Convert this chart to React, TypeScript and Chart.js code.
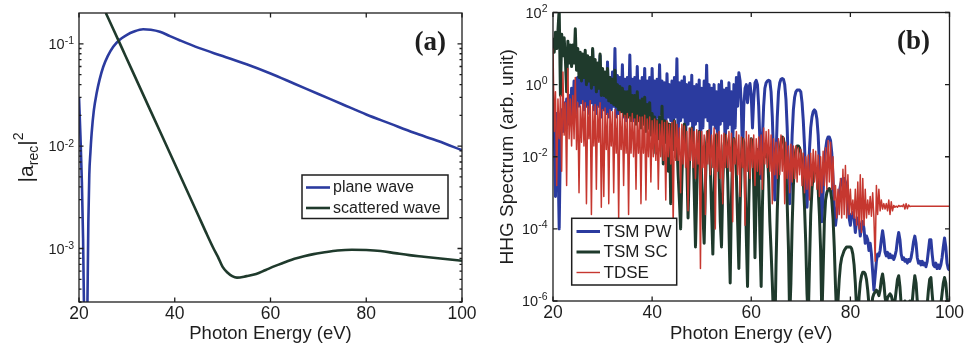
import React, { useEffect, useRef } from 'react';
import { Chart, registerables } from 'chart.js';

Chart.register(...registerables);

const SANS = '"Liberation Sans", Arial, Helvetica, sans-serif';
const SERIF = '"Liberation Serif", "Times New Roman", Times, serif';
const INK = '#1e1e1e';
const BLUE = '#2b3b9f';
const GREEN = '#1f3a2c';
const RED = '#c6372f';

// ---------------- Panel (a): recombination amplitude ----------------
const planeWaveEnergy = [20, 20.3, 20.6, 20.85, 21.05, 21.4, 21.75, 21.95, 22.15, 22.4, 22.64, 23.1, 23.68, 24.3, 25.07, 26.0, 27.15, 28.5, 29.93, 31.5, 33.4, 35.0, 36.9, 39.0, 41.0, 45.0, 50.0, 55.0, 60.0, 65.0, 70.0, 75.0, 80.0, 85.0, 90.0, 95.0, 100.0];
const planeWaveLog10 = [-1.52, -1.9, -2.35, -2.9, -3.6, -5.0, -3.6, -2.75, -2.28, -2.05, -1.875, -1.65, -1.484, -1.35, -1.224, -1.12, -1.028, -0.96, -0.914, -0.88, -0.858, -0.862, -0.882, -0.925, -0.965, -1.04, -1.12, -1.2, -1.29, -1.39, -1.49, -1.59, -1.69, -1.78, -1.87, -1.95, -2.04];
const scatteredWaveEnergy = [25.6, 27, 29, 31, 33, 35, 37, 39, 41, 43, 45, 46.5, 48, 49, 50, 51, 52, 53, 55, 57, 59, 61, 63, 65, 67, 69, 71, 74, 77, 80, 83, 86, 89, 92, 95, 98, 100];
const scatteredWaveLog10 = [-0.699, -0.84, -1.045, -1.25, -1.455, -1.66, -1.865, -2.07, -2.275, -2.48, -2.685, -2.84, -2.99, -3.08, -3.18, -3.235, -3.27, -3.285, -3.27, -3.25, -3.21, -3.17, -3.135, -3.1, -3.075, -3.055, -3.04, -3.02, -3.012, -3.015, -3.025, -3.045, -3.065, -3.08, -3.095, -3.11, -3.12];
const panelAXTicks = [20, 40, 60, 80, 100];
const panelAYTicks = [1e-3, 1e-2, 1e-1];
const panelAYTickExponents = ['-3', '-2', '-1'];
const panelAYMinorTicks = [3e-4, 4e-4, 5e-4, 6e-4, 7e-4, 8e-4, 9e-4, 2e-3, 3e-3, 4e-3, 5e-3, 6e-3, 7e-3, 8e-3, 9e-3, 2e-2, 3e-2, 4e-2, 5e-2, 6e-2, 7e-2, 8e-2, 9e-2];
const panelALegendLabels = ['plane wave', 'scattered wave'];
const panelAYTitleParts = [
  { text: '|a', size: 21, shift: 0 },
  { text: 'rec', size: 14, shift: 5 },
  { text: '|', size: 21, shift: 0 },
  { text: '2', size: 14, shift: -10 },
];
const xTitle = 'Photon Energy (eV)';

// ---------------- Panel (b): HHG spectra (log10 values, 0.25 eV grid from 20 eV) ----------------
const hhgEnergyStart = 20;
const hhgEnergyStep = 0.25;
const tsmPwLog10 = [
  -0.5, -1.2, -3.1, -0.8, -2.0, -4.0, -1.5, -0.7, -1.3, -0.5, -1.2, -0.4, -1.1, -0.3, -1.0, -0.1, -0.9, 0.1, -0.8, 0.15,
  0.2, -0.6, 0.25, -0.5, 0.3, -0.7, 0.45, -0.6, 0.25, -0.8, 0.35, -0.5, 0.95, -0.7, 0.3, -0.8, 0.25, -0.6, 0.8, -0.9,
  0.25, -0.7, 0.3, -0.8, 0.63, -0.9, 0.2, -0.7, 0.35, -0.6, 1.0, -0.9, 0.25, -0.8, 0.2, -0.7, 0.55, -0.9, 0.15, -1.0,
  0.2, -0.8, 0.82, -0.7, 0.15, -1.0, 0.2, -0.8, 0.5, -0.9, 0.1, -1.1, 0.2, -0.8, 0.45, -0.9, 0.1, -1.2, 0.2, -0.8,
  0.45, -0.9, 0.1, -1.2, 0.15, -0.9, 0.55, -0.8, 0.1, -1.1, 0.05, -1.3, 0.3, -0.9, 0.0, -1.0, 0.1, -1.4, 0.2, -0.9,
  0.72, -1.5, 0.05, -1.0, 0.1, -0.9, 0.22, -1.6, 0.0, -1.1, 0.05, -1.0, 0.26, -1.8, -0.05, -1.1, 0.0, -1.0, 0.13, -1.9,
  -0.1, -1.2, 0.1, -0.9, 0.54, -1.0, 0.0, -1.7, -0.1, -1.1, 0.0, -1.2, -0.2, -2.0, 0.0, -1.1, 0.1, -1.0, -0.15, -1.8,
  -0.1, -1.2, 0.05, -1.1, -0.2, -1.9, 0.0, -1.2, 0.2, -0.6, 0.33, 0.1, -0.6, -2.1, -0.6, -0.1, 0.0, -0.5, -0.1, 0.03,
  -0.3, -1.2, -0.4, 0.05, 0.12, 0.0, -0.6, -1.6, -2.6, -1.5, -0.6, -0.1, 0.05, 0.1, 0.12, 0.1, -0.2, -0.9, -2.0, -3.2,
  -2.0, -0.9, -0.2, 0.05, 0.15, 0.17, 0.15, 0.0, -0.4, -1.2, -2.3, -3.3, -2.5, -1.4, -0.7, -0.35, -0.2, -0.15, -0.15, -0.15,
  -0.2, -0.5, -1.0, -1.7, -2.6, -3.4, -2.6, -1.8, -1.2, -0.9, -0.75, -0.7, -0.75, -0.95, -1.4, -2.2, -3.2, -3.8, -3.0, -2.2,
  -1.8, -1.55, -1.45, -1.45, -1.55, -1.9, -2.6, -3.4, -3.9, -3.6, -3.2, -3.0, -2.8, -2.65, -2.6, -2.6, -2.7, -2.9, -3.3, -3.7,
  -3.9, -3.6, -3.55, -3.7, -4.1, -3.8, -3.7, -3.8, -4.2, -3.9, -3.8, -4.0, -4.4, -4.2, -4.3, -4.6, -4.4, -4.7, -5.2, -5.7,
  -5.3, -4.9, -4.7, -4.75, -4.6, -4.3, -4.05, -4.3, -4.65, -4.75, -4.65, -4.8, -4.7, -4.8, -4.75, -4.85, -4.75, -4.6, -4.3, -4.1,
  -4.3, -4.7, -4.85, -4.8, -4.9, -4.85, -4.95, -4.85, -4.9, -4.8, -4.6, -4.35, -4.2, -4.4, -4.8, -4.95, -4.9, -5.0, -4.9, -5.0,
  -4.95, -5.05, -4.9, -4.6, -4.3, -4.3, -4.7, -5.0, -5.05, -4.95, -5.1, -5.0, -5.1, -5.0, -4.8, -4.5, -4.25, -4.5, -4.95, -5.1,
  -5.15,
];
const tsmScLog10 = [
  1.3, 0.9, 1.45, 1.0, 1.5, 2.1, -0.3, 1.4, 0.8, 1.3, 0.7, -0.2, 1.2, 0.6, 1.1, 0.5, 1.1, 0.6, 1.55, 0.4,
  1.0, 0.2, 0.9, 0.1, 0.85, 0.2, 0.95, 0.0, 0.8, 0.1, 0.75, -0.1, 1.0, 0.0, 0.7, -0.2, 0.6, -0.1, 0.85, -0.3,
  0.45, -0.3, 0.35, -0.35, 0.45, -0.45, 0.2, -0.5, 0.15, -0.55, 0.4, -0.6, 0.0, -0.7, -0.05, -0.75, -0.1, -0.85, -0.2, -0.9,
  -0.2, -0.9, -0.05, -1.0, -0.3, -0.9, -0.3, -1.1, -0.2, -1.0, -0.45, -1.2, -0.4, -1.1, -0.35, -1.3, -0.55, -1.2, -0.5, -1.4,
  -0.8, -1.4, -0.9, -1.9, -1.0, -1.5, -0.9, -1.6, -0.6, -2.2, -1.0, -1.6, -1.05, -2.4, -1.1, -3.3, -1.1, -1.8, -1.0, -2.0,
  -1.6, -2.5, -3.2, -4.0, -2.6, -1.5, -1.1, -1.3, -2.2, -3.7, -2.3, -1.4, -1.2, -1.6, -3.0, -4.5, -3.0, -1.8, -1.3, -1.5,
  -2.6, -3.6, -4.4, -2.8, -1.6, -1.3, -1.5, -2.3, -3.5, -4.7, -3.0, -1.8, -1.4, -1.6, -2.4, -3.8, -4.5, -2.8, -1.7, -1.4,
  -1.6, -2.6, -4.0, -5.5, -3.2, -1.9, -1.5, -1.7, -2.5, -3.8, -5.1, -3.4, -2.0, -1.5, -1.6, -2.6, -4.2, -5.6, -3.3, -1.9,
  -1.5, -1.6, -2.8, -4.8, -3.0, -1.8, -2.4, -4.2, -5.6, -3.4, -1.9, -1.7, -2.0, -1.8, -2.6, -3.8, -4.6, -5.5, -6.5, -7.0,
  -5.0, -3.5, -2.5, -1.9, -1.6, -1.45, -1.5, -1.8, -2.4, -3.3, -4.5, -6.5, -5.5, -3.9, -2.8, -2.1, -1.8, -1.7, -1.7, -1.75,
  -1.9, -2.2, -2.7, -3.4, -4.4, -5.8, -6.5, -5.0, -3.6, -2.9, -2.5, -2.35, -2.35, -2.5, -2.9, -3.6, -4.6, -6.5, -5.2, -3.8,
  -3.2, -3.0, -2.9, -2.88, -2.95, -3.2, -3.7, -4.5, -5.6, -6.5, -6.0, -5.4, -5.0, -4.8, -4.7, -4.6, -4.55, -4.5, -4.5, -4.5,
  -4.5, -4.55, -4.7, -5.0, -5.5, -6.2, -6.5, -5.9, -5.5, -5.3, -5.2, -5.2, -5.25, -5.4, -5.7, -6.1, -6.5, -6.2, -5.9, -5.8,
  -5.75, -5.7, -5.75, -5.85, -5.7, -5.4, -5.25, -5.5, -5.9, -6.1, -5.9, -5.85, -5.8, -5.85, -6.0, -6.2, -6.0, -5.7, -5.4, -5.3,
  -5.6, -6.1, -6.3, -6.1, -6.0, -6.2, -6.3, -6.1, -6.0, -6.2, -6.0, -5.6, -5.3, -5.5, -6.0, -6.3, -6.2, -6.1, -6.3, -6.2,
  -6.1, -6.3, -6.1, -5.7, -5.4, -5.35, -5.8, -6.2, -6.3, -6.1, -6.3, -6.2, -6.3, -6.1, -5.8, -5.5, -5.35, -5.5, -5.9, -6.2,
  -6.3,
];
const tdseLog10 = [
  1.0, -1.3, -0.2, -2.8, -0.4, -1.5, -0.3, -2.4, 0.35, -1.4, -0.5, -2.8, 0.45, -1.5, -0.4, -1.7, -0.3, -1.5, 0.2, -1.8,
  -0.5, -3.0, -0.6, -1.6, -0.45, -1.7, -0.5, -3.3, -0.6, -1.5, -0.45, -3.6, -0.6, -1.7, -0.55, -2.9, -0.6, -1.6, -0.5, -3.4,
  -0.7, -3.1, -0.65, -1.8, -0.8, -3.3, -0.7, -1.7, -0.75, -3.0, -0.7, -1.9, -0.85, -3.7, -0.75, -1.8, -0.8, -2.8, -0.85, -1.9,
  -0.8, -3.6, -0.9, -1.9, -0.8, -2.0, -0.95, -2.9, -0.85, -1.9, -0.9, -3.3, -0.9, -1.9, -0.85, -3.2, -0.95, -2.0, -0.9, -2.7,
  -1.0, -2.0, -0.95, -2.1, -1.0, -2.9, -1.1, -2.0, -1.0, -2.1, -1.05, -3.2, -1.0, -2.0, -1.1, -2.2, -1.05, -3.9, -1.0, -2.1,
  -1.1, -2.1, -1.2, -3.0, -1.1, -2.2, -1.15, -2.3, -1.3, -3.5, -1.2, -2.1, -1.2, -2.3, -1.3, -2.6, -1.25, -2.2, -1.3, -5.1,
  -1.3, -2.3, -1.4, -3.6, -1.3, -2.2, -1.25, -2.5, -1.4, -2.3, -1.2, -4.0, -1.35, -2.4, -1.3, -2.6, -1.4, -3.3, -1.35, -2.3,
  -1.4, -2.3, -1.3, -2.4, -1.35, -3.8, -1.5, -2.2, -1.3, -2.5, -1.4, -3.1, -1.45, -2.3, -1.5, -3.9, -1.3, -2.4, -1.4, -2.6,
  -1.5, -2.3, -1.4, -2.8, -1.5, -2.4, -1.45, -2.5, -1.4, -2.9, -1.2, -2.2, -1.3, -2.3, -1.25, -2.4, -1.4, -3.3, -1.5, -2.5,
  -1.6, -2.6, -1.5, -2.5, -1.4, -2.4, -1.45, -3.3, -1.6, -2.6, -1.7, -3.0, -1.65, -2.7, -1.7, -2.6, -1.7, -2.7, -1.75, -2.5,
  -1.8, -2.8, -1.9, -3.0, -2.0, -2.9, -1.95, -3.2, -1.9, -2.8, -1.8, -2.7, -1.85, -2.9, -1.95, -3.1, -2.0, -3.0, -1.85, -2.8,
  -1.75, -2.9, -1.55, -2.7, -1.6, -2.9, -2.0, -3.2, -2.8, -3.7, -2.9, -3.6, -2.6, -3.7, -2.35, -3.6, -2.24, -3.7, -2.5, -3.6,
  -2.9, -3.6, -3.2, -3.7, -2.9, -3.9, -2.7, -4.0, -2.5, -4.1, -2.6, -3.9, -2.9, -3.7, -3.2, -3.6, -3.1, -3.65, -3.0, -3.7,
  -4.9, -2.8, -3.6, -2.9, -3.5, -3.2, -3.45, -3.3, -3.45, -3.3, -3.5, -3.2, -3.6, -3.25, -3.5, -3.35, -3.4, -3.37, -3.4, -3.35,
  -3.38, -3.36, -3.38, -3.32, -3.45, -3.3, -3.44, -3.34, -3.38, -3.37, -3.37, -3.37, -3.37, -3.37, -3.37, -3.37, -3.37, -3.37, -3.37, -3.37,
  -3.37, -3.37, -3.37, -3.37, -3.37, -3.37, -3.37, -3.37, -3.37, -3.37, -3.37, -3.37, -3.37, -3.37, -3.37, -3.37, -3.37, -3.37, -3.37, -3.37,
  -3.37,
];
const panelBXTicks = [20, 40, 60, 80, 100];
const panelBYTicks = [1e-6, 1e-4, 1e-2, 1, 1e2];
const panelBYTickExponents = ['-6', '-4', '-2', '0', '2'];
const panelBLegendLabels = ['TSM PW', 'TSM SC', 'TDSE'];
const panelBYTitle = 'HHG Spectrum (arb. unit)';

const hhgEnergy = tsmPwLog10.map((_, i) => hhgEnergyStart + i * hhgEnergyStep);
const toPoints = (xs: number[], logs: number[]) => logs.map((l, i) => ({ x: xs[i], y: Math.pow(10, l) }));

// ---------------- drawing helpers ----------------
function drawPow10(ctx: any, right: number, cy: number, exp: string, baseSize: number, expSize: number, raise: number) {
  ctx.font = `${expSize}px ${SANS}`;
  const we = ctx.measureText(exp).width;
  ctx.font = `${baseSize}px ${SANS}`;
  const wb = ctx.measureText('10').width;
  const x0 = right - we - wb;
  const baseline = cy + baseSize * 0.358;
  ctx.fillStyle = INK;
  ctx.textAlign = 'left';
  ctx.textBaseline = 'alphabetic';
  ctx.fillText('10', x0, baseline);
  ctx.font = `${expSize}px ${SANS}`;
  ctx.fillText(exp, x0 + wb, baseline - raise);
}

function drawRichVertical(ctx: any, parts: any[], baselineX: number, centerY: number) {
  ctx.save();
  ctx.translate(baselineX, centerY);
  ctx.rotate(-Math.PI / 2);
  ctx.fillStyle = INK;
  ctx.textAlign = 'left';
  ctx.textBaseline = 'alphabetic';
  let total = 0;
  const widths = parts.map((p) => {
    ctx.font = `${p.size}px ${SANS}`;
    const w = ctx.measureText(p.text).width;
    total += w;
    return w;
  });
  let x = -total / 2;
  parts.forEach((p, i) => {
    ctx.font = `${p.size}px ${SANS}`;
    ctx.fillText(p.text, x, p.shift);
    x += widths[i];
  });
  ctx.restore();
}

function drawLegend(ctx: any, L: any) {
  ctx.save();
  ctx.fillStyle = '#ffffff';
  ctx.fillRect(L.x, L.y, L.w, L.h);
  ctx.strokeStyle = INK;
  ctx.lineWidth = 1.5;
  ctx.strokeRect(L.x, L.y, L.w, L.h);
  ctx.font = `${L.fontSize}px ${SANS}`;
  ctx.textAlign = 'left';
  ctx.textBaseline = 'middle';
  L.rows.forEach((r: any) => {
    ctx.strokeStyle = r.color;
    ctx.lineWidth = r.width;
    ctx.beginPath();
    ctx.moveTo(L.lineX0, r.y);
    ctx.lineTo(L.lineX1, r.y);
    ctx.stroke();
    ctx.fillStyle = INK;
    ctx.fillText(r.label, L.textX, r.y + 0.5);
  });
  ctx.restore();
}

function decorations(cfg: any) {
  return {
    id: 'panelDecorations',
    afterDraw(chart: any) {
      const ctx = chart.ctx;
      const { left, right, top, bottom } = chart.chartArea;
      const xs = chart.scales.x;
      const ys = chart.scales.y;
      ctx.save();
      ctx.strokeStyle = INK;
      ctx.lineWidth = 1.3;
      ctx.beginPath();
      cfg.xTicks.forEach((v: number) => {
        const p = xs.getPixelForValue(v);
        ctx.moveTo(p, bottom);
        ctx.lineTo(p, bottom - cfg.tickLen);
        ctx.moveTo(p, top);
        ctx.lineTo(p, top + cfg.tickLen);
      });
      cfg.yTicks.forEach((v: number) => {
        const p = ys.getPixelForValue(v);
        ctx.moveTo(left, p);
        ctx.lineTo(left + cfg.tickLen, p);
        ctx.moveTo(right, p);
        ctx.lineTo(right - cfg.tickLen, p);
      });
      cfg.yMinor.forEach((v: number) => {
        const p = ys.getPixelForValue(v);
        ctx.moveTo(left, p);
        ctx.lineTo(left + cfg.minorLen, p);
        ctx.moveTo(right, p);
        ctx.lineTo(right - cfg.minorLen, p);
      });
      ctx.stroke();
      ctx.strokeRect(left, top, right - left, bottom - top);
      cfg.yTicks.forEach((v: number, i: number) =>
        drawPow10(ctx, left - cfg.labelGap, ys.getPixelForValue(v), cfg.yExps[i], 14.5, 10.5, cfg.raise)
      );
      if (cfg.yTitleParts) drawRichVertical(ctx, cfg.yTitleParts, cfg.yTitleX, (top + bottom) / 2);
      drawLegend(ctx, cfg.legend);
      ctx.font = `bold ${cfg.tag.size}px ${SERIF}`;
      ctx.fillStyle = INK;
      ctx.textAlign = 'right';
      ctx.textBaseline = 'middle';
      ctx.fillText(cfg.tag.text, cfg.tag.x, cfg.tag.y);
      ctx.restore();
    },
  };
}

function xAxis(ticks: number[], height: number) {
  return {
    type: 'linear',
    min: 20,
    max: 100,
    afterBuildTicks: (s: any) => {
      s.ticks = ticks.map((v) => ({ value: v }));
    },
    ticks: { font: { family: SANS, size: 17.5 }, color: INK, padding: 2, maxRotation: 0, autoSkip: false },
    grid: { display: false, drawTicks: false },
    border: { display: false },
    title: { display: true, text: xTitle, font: { family: SANS, size: 18.5 }, color: INK, padding: { top: 0, bottom: 4 } },
    afterFit: (s: any) => {
      s.height = height;
    },
  };
}

function configA(): any {
  return {
    type: 'line',
    data: {
      datasets: [
        {
          label: panelALegendLabels[1],
          data: toPoints(scatteredWaveEnergy, scatteredWaveLog10),
          borderColor: GREEN,
          borderWidth: 2.6,
          pointRadius: 0,
          cubicInterpolationMode: 'monotone',
          order: 0,
        },
        {
          label: panelALegendLabels[0],
          data: toPoints(planeWaveEnergy, planeWaveLog10),
          borderColor: BLUE,
          borderWidth: 2.6,
          pointRadius: 0,
          cubicInterpolationMode: 'monotone',
          order: 1,
        },
      ],
    },
    options: {
      responsive: false,
      animation: false,
      devicePixelRatio: 1,
      events: [],
      layout: { padding: { left: 0, right: 18, top: 13, bottom: 0 } },
      plugins: { legend: { display: false }, tooltip: { enabled: false } },
      scales: {
        x: xAxis(panelAXTicks, 47),
        y: {
          type: 'logarithmic',
          min: 3e-4,
          max: 0.2,
          ticks: { display: false },
          grid: { display: false, drawTicks: false },
          border: { display: false },
          afterFit: (s: any) => {
            s.width = 79;
          },
        },
      },
    },
    plugins: [
      decorations({
        xTicks: panelAXTicks,
        yTicks: panelAYTicks,
        yExps: panelAYTickExponents,
        yMinor: panelAYMinorTicks,
        tickLen: 4.5,
        minorLen: 2.5,
        labelGap: 5,
        raise: 4.5,
        yTitleParts: panelAYTitleParts,
        yTitleX: 33,
        legend: {
          x: 302,
          y: 175,
          w: 146,
          h: 43.5,
          lineX0: 306,
          lineX1: 330,
          textX: 333,
          fontSize: 16,
          rows: [
            { label: panelALegendLabels[0], color: BLUE, width: 2.6, y: 187.5 },
            { label: panelALegendLabels[1], color: GREEN, width: 2.6, y: 208 },
          ],
        },
        tag: { text: '(a)', size: 27, x: 446, y: 43.5 },
      }),
    ],
  };
}

function configB(): any {
  const common = { pointRadius: 0, borderJoinStyle: 'round', tension: 0 };
  return {
    type: 'line',
    data: {
      datasets: [
        { label: panelBLegendLabels[2], data: toPoints(hhgEnergy, tdseLog10), borderColor: RED, borderWidth: 1.5, order: 0, ...common },
        { label: panelBLegendLabels[1], data: toPoints(hhgEnergy, tsmScLog10), borderColor: GREEN, borderWidth: 3, order: 1, ...common },
        { label: panelBLegendLabels[0], data: toPoints(hhgEnergy, tsmPwLog10), borderColor: BLUE, borderWidth: 3, order: 2, ...common },
      ],
    },
    options: {
      responsive: false,
      animation: false,
      devicePixelRatio: 1,
      events: [],
      layout: { padding: { left: 0, right: 17.5, top: 12.5, bottom: 0 } },
      plugins: { legend: { display: false }, tooltip: { enabled: false } },
      scales: {
        x: xAxis(panelBXTicks, 48),
        y: {
          type: 'logarithmic',
          min: 1e-6,
          max: 1e2,
          ticks: { display: false },
          grid: { display: false, drawTicks: false },
          border: { display: false },
          title: { display: true, text: panelBYTitle, font: { family: SANS, size: 19 }, color: INK, padding: { top: 16.6, bottom: 0 } },
          afterFit: (s: any) => {
            s.width = 73;
          },
        },
      },
    },
    plugins: [
      decorations({
        xTicks: panelBXTicks,
        yTicks: panelBYTicks,
        yExps: panelBYTickExponents,
        yMinor: [],
        tickLen: 4.5,
        minorLen: 2.5,
        labelGap: 5.5,
        raise: 6,
        legend: {
          x: 91.7,
          y: 218.3,
          w: 105,
          h: 66.7,
          lineX0: 96.5,
          lineX1: 120,
          textX: 123.5,
          fontSize: 17,
          rows: [
            { label: panelBLegendLabels[0], color: BLUE, width: 3, y: 231.5 },
            { label: panelBLegendLabels[1], color: GREEN, width: 3, y: 252 },
            { label: panelBLegendLabels[2], color: RED, width: 1.4, y: 272.5 },
          ],
        },
        tag: { text: '(b)', size: 27, x: 450, y: 42.5 },
      }),
    ],
  };
}

export default function App() {
  const refA = useRef<HTMLCanvasElement>(null);
  const refB = useRef<HTMLCanvasElement>(null);
  useEffect(() => {
    const a = new Chart(refA.current as HTMLCanvasElement, configA());
    const b = new Chart(refB.current as HTMLCanvasElement, configB());
    return () => {
      a.destroy();
      b.destroy();
    };
  }, []);
  return (
    <div style={{ position: 'fixed', left: 0, top: 0, width: 967, height: 349, background: '#ffffff' }}>
      <canvas ref={refA} width={480} height={349} style={{ position: 'absolute', left: 0, top: 0, width: 480, height: 349 }} />
      <canvas ref={refB} width={487} height={349} style={{ position: 'absolute', left: 480, top: 0, width: 487, height: 349 }} />
    </div>
  );
}
